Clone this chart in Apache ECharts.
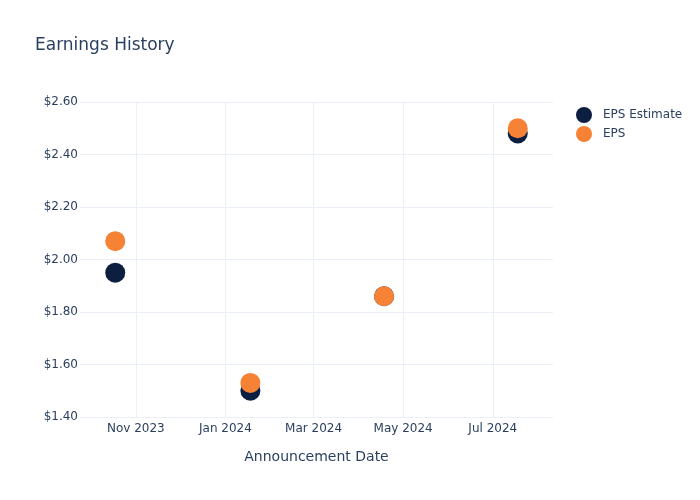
<!DOCTYPE html>
<html>
<head>
<meta charset="utf-8">
<script src="https://cdn.jsdelivr.net/npm/echarts@6/dist/echarts.min.js"></script>
<style>html,body{margin:0;padding:0;background:#fff}#c{width:700px;height:500px}</style>
</head>
<body>
<div id="c"></div>
<script>
const dates = ['2023-10-18', '2024-01-18', '2024-04-18', '2024-07-18'];
const epsEstimate = [1.95, 1.50, 1.86, 2.48];
const eps = [2.07, 1.53, 1.86, 2.50];
const yTicks = [1.4, 1.6, 1.8, 2.0, 2.2, 2.4, 2.6];
const xRange = ['2023-09-24', '2024-08-11'];

function ts(s) { const p = s.split('-').map(Number); return Date.UTC(p[0], p[1] - 1, p[2]); }
const months = ['Jan','Feb','Mar','Apr','May','Jun','Jul','Aug','Sep','Oct','Nov','Dec'];
const font = 'DejaVu Sans';
const txt = '#2a3f5f';

const chart = echarts.init(document.getElementById('c'), null, {renderer: 'canvas'});
chart.setOption({
  useUTC: true,
  animation: false,
  textStyle: {fontFamily: font},
  title: {text: 'Earnings History', left: 30, top: 32,
    textStyle: {fontFamily: font, fontSize: 17, fontWeight: 'normal', color: txt}},
  legend: {orient: 'vertical', left: 571, top: 102, itemWidth: 16, itemHeight: 16, itemGap: 3,
    icon: 'circle', textStyle: {fontFamily: font, fontSize: 12, color: txt, padding: [0, 0, 0, 6]},
    data: ['EPS Estimate', 'EPS']},
  grid: {left: 80, right: 147, top: 102, bottom: 83, containLabel: false},
  xAxis: {
    type: 'time', min: ts(xRange[0]), max: ts(xRange[1]), splitNumber: 4,
    name: 'Announcement Date', nameLocation: 'middle', nameGap: 33,
    nameTextStyle: {fontFamily: font, fontSize: 14, color: txt},
    axisLine: {show: false}, axisTick: {show: false},
    splitLine: {show: true, showMinLine: false, showMaxLine: false, lineStyle: {color: '#ebf0f8', width: 1}},
    axisLabel: {margin: 6, fontFamily: font, fontSize: 12, color: txt, showMinLabel: false, showMaxLabel: false,
      formatter: function (v) { const d = new Date(v); return months[d.getUTCMonth()] + ' ' + d.getUTCFullYear(); },
      hideOverlap: false}
  },
  yAxis: {
    type: 'value', min: yTicks[0], max: yTicks[yTicks.length - 1], interval: 0.2,
    axisLine: {show: false}, axisTick: {show: false},
    splitLine: {lineStyle: {color: '#ebf0f8', width: 1}},
    axisLabel: {margin: 2, fontFamily: font, fontSize: 12, color: txt,
      formatter: function (v) { return '$' + v.toFixed(2); }}
  },
  series: [
    {name: 'EPS Estimate', type: 'scatter', symbolSize: 20,
      itemStyle: {color: '#0c1f41', opacity: 1},
      data: dates.map((d, i) => [ts(d), epsEstimate[i]])},
    {name: 'EPS', type: 'scatter', symbolSize: 20,
      itemStyle: {color: '#f68236', opacity: 1},
      data: dates.map((d, i) => [ts(d), eps[i]])}
  ]
});
</script>
</body>
</html>
